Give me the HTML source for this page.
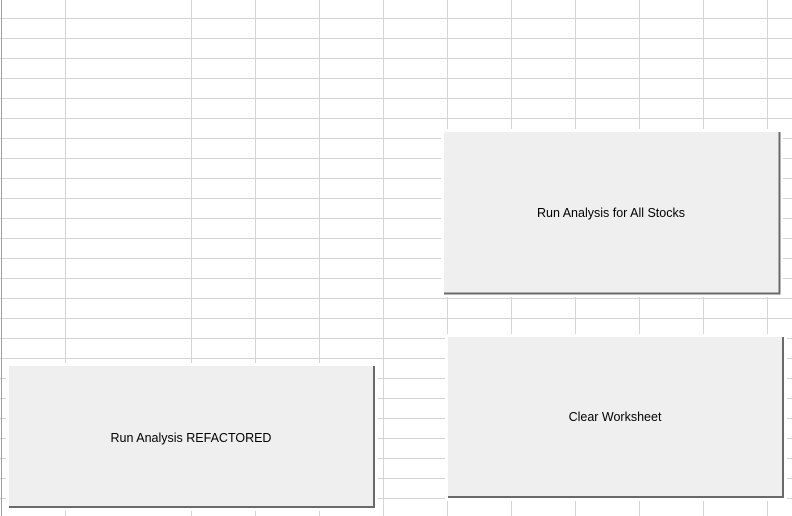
<!DOCTYPE html>
<html><head><style>
html,body{margin:0;padding:0;background:#fff;width:792px;height:516px;overflow:hidden}
svg{display:block}
text{font-family:"Liberation Sans",sans-serif;font-size:12.5px;fill:#000}
</style></head><body>
<svg width="792" height="516" xmlns="http://www.w3.org/2000/svg">
<g stroke="#d4d4d4" stroke-width="1">
<line x1="0" y1="18.5" x2="792" y2="18.5"/><line x1="0" y1="38.5" x2="792" y2="38.5"/><line x1="0" y1="58.5" x2="792" y2="58.5"/><line x1="0" y1="78.5" x2="792" y2="78.5"/><line x1="0" y1="98.5" x2="792" y2="98.5"/><line x1="0" y1="118.5" x2="792" y2="118.5"/><line x1="0" y1="138.5" x2="792" y2="138.5"/><line x1="0" y1="158.5" x2="792" y2="158.5"/><line x1="0" y1="178.5" x2="792" y2="178.5"/><line x1="0" y1="198.5" x2="792" y2="198.5"/><line x1="0" y1="218.5" x2="792" y2="218.5"/><line x1="0" y1="238.5" x2="792" y2="238.5"/><line x1="0" y1="258.5" x2="792" y2="258.5"/><line x1="0" y1="278.5" x2="792" y2="278.5"/><line x1="0" y1="298.5" x2="792" y2="298.5"/><line x1="0" y1="318.5" x2="792" y2="318.5"/><line x1="0" y1="338.5" x2="792" y2="338.5"/><line x1="0" y1="358.5" x2="792" y2="358.5"/><line x1="0" y1="378.5" x2="792" y2="378.5"/><line x1="0" y1="398.5" x2="792" y2="398.5"/><line x1="0" y1="418.5" x2="792" y2="418.5"/><line x1="0" y1="438.5" x2="792" y2="438.5"/><line x1="0" y1="458.5" x2="792" y2="458.5"/><line x1="0" y1="478.5" x2="792" y2="478.5"/><line x1="0" y1="498.5" x2="792" y2="498.5"/>
<line x1="65.5" y1="0" x2="65.5" y2="516"/><line x1="191.5" y1="0" x2="191.5" y2="516"/><line x1="255.5" y1="0" x2="255.5" y2="516"/><line x1="319.5" y1="0" x2="319.5" y2="516"/><line x1="383.5" y1="0" x2="383.5" y2="516"/><line x1="447.5" y1="0" x2="447.5" y2="516"/><line x1="511.5" y1="0" x2="511.5" y2="516"/><line x1="575.5" y1="0" x2="575.5" y2="516"/><line x1="639.5" y1="0" x2="639.5" y2="516"/><line x1="703.5" y1="0" x2="703.5" y2="516"/><line x1="767.5" y1="0" x2="767.5" y2="516"/>
</g>
<line x1="1.5" y1="0" x2="1.5" y2="516" stroke="#a0a0a0" stroke-width="1"/>
<!-- button 1 -->
<rect x="441" y="129" width="342" height="168" fill="#fff"/>
<rect x="444" y="132" width="335" height="161" fill="#efefef"/>
<path d="M444 293.5 H779.5 V132" fill="none" stroke="#6a6a6a" stroke-width="2"/>
<text x="611" y="217" text-anchor="middle">Run Analysis for All Stocks</text>
<!-- button 2 -->
<rect x="445" y="334" width="342" height="167" fill="#fff"/>
<rect x="448" y="337" width="335" height="160" fill="#efefef"/>
<path d="M448 497 H783 V337" fill="none" stroke="#6a6a6a" stroke-width="2"/>
<text x="615" y="421" text-anchor="middle">Clear Worksheet</text>
<!-- button 3 -->
<rect x="6" y="363" width="372" height="148" fill="#fff"/>
<rect x="9" y="366" width="365" height="141" fill="#efefef"/>
<path d="M9 507 H374 V366" fill="none" stroke="#6a6a6a" stroke-width="2"/>
<text x="191" y="442" text-anchor="middle">Run Analysis REFACTORED</text>
</svg>
</body></html>
